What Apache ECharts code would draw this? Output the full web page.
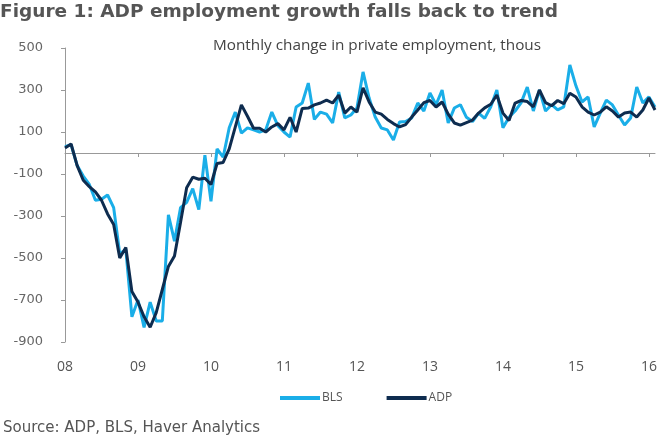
<!DOCTYPE html>
<html>
<head>
<meta charset="utf-8">
<script src="https://cdn.jsdelivr.net/npm/echarts@6/dist/echarts.min.js"></script>
<style>
  html, body { margin: 0; padding: 0; background: #fff; }
  #main { width: 666px; height: 440px; }
</style>
</head>
<body>
<div id="main"></div>
<script>
// years shown on the x axis, data runs monthly Jan 2008 - Feb 2016
var years = [2008, 2009, 2010, 2011, 2012, 2013, 2014, 2015, 2016];
var lastMonth = 2; // Feb 2016

// y axis tick labels
var yTicks = [-900, -700, -500, -300, -100, 100, 300, 500];

// BLS private payrolls, monthly change, thous
var bls = [
  30, 40, -60, -110, -150, -225, -220, -200, -260, -480, -460, -780,
  -700, -830, -710, -800, -800, -295, -420, -260, -235, -170, -270, -10,
  -230, 20, -20, 120, 195, 95, 120, 110, 100, 110, 195, 130,
  100, 76, 219, 238, 333, 160, 195, 185, 143, 290, 167, 181,
  214, 386, 262, 171, 119, 110, 62, 148, 150, 167, 238, 200,
  286, 230, 300, 143, 214, 230, 170, 150, 190, 165, 220, 300,
  120, 170, 200, 240, 314, 200, 300, 200, 230, 205, 220, 419,
  320, 243, 267, 124, 190, 252, 229, 180, 133, 167, 314, 238,
  267, 219
];

// ADP private employment, monthly change, thous
var adp = [
  24, 43, -60, -130, -160, -185, -225, -290, -340, -500, -450, -660,
  -710, -780, -830, -760, -650, -540, -490, -330, -165, -115, -125, -120,
  -150, -50, -45, 20, 124, 229, 175, 118, 118, 100, 124, 140,
  110, 170, 100, 212, 214, 229, 238, 252, 238, 276, 190, 219,
  195, 310, 243, 195, 185, 160, 140, 124, 135, 171, 205, 240,
  250, 219, 243, 185, 143, 133, 145, 157, 190, 215, 232, 276,
  190, 155, 238, 250, 245, 220, 300, 240, 225, 250, 235, 285,
  267, 220, 195, 181, 195, 220, 200, 171, 190, 195, 171, 205,
  262, 205
];

// month categories "2008-01" ...
var months = [];
years.forEach(function (y, yi) {
  var n = yi === years.length - 1 ? lastMonth : 12;
  for (var m = 1; m <= n; m++) {
    months.push(y + "-" + (m < 10 ? "0" + m : m));
  }
});

var myChart = echarts.init(document.getElementById("main"));

myChart.setOption({
  animation: false,
  backgroundColor: "#fff",
  title: [
    {
      text: "Figure 1: ADP employment growth falls back to trend",
      left: 0,
      top: 3,
      padding: 0,
      textStyle: {
        fontFamily: "DejaVu Sans",
        fontSize: 18.5,
        fontWeight: "bold",
        color: "#555",
      },
    },
    {
      text: "Monthly change in private employment, thous",
      left: 213,
      top: 38,
      padding: 0,
      textStyle: {
        fontFamily: "Open Sans",
        fontSize: 15.3,
        fontWeight: "normal",
        color: "#444",
      },
    },
    {
      text: "Source: ADP, BLS, Haver Analytics",
      left: 3,
      top: 421,
      padding: 0,
      textStyle: {
        fontFamily: "DejaVu Sans",
        fontSize: 15,
        fontWeight: "normal",
        color: "#555",
      },
    },
  ],
  legend: {
    data: ["BLS", "ADP"],
    left: 275,
    top: 387,
    icon: "rect",
    itemWidth: 40,
    itemHeight: 4,
    itemGap: 44,
    textStyle: {
      fontFamily: "Open Sans",
      fontSize: 12,
      color: "#555",
      padding: [0, 0, 0, -3],
    },
  },
  grid: {
    left: 65,
    right: 11,
    top: 48,
    bottom: 98,
  },
  xAxis: [
    // line on zero with year ticks
    {
      type: "category",
      data: months,
      boundaryGap: false,
      position: "bottom",
      axisLine: { onZero: true, lineStyle: { color: "#999", width: 1 } },
      axisTick: {
        interval: function (index) {
          return index % 12 === 0;
        },
        length: 4,
        lineStyle: { color: "#999" },
      },
      axisLabel: { show: false },
      splitLine: { show: false },
    },
    // year labels along the bottom
    {
      type: "category",
      data: months,
      boundaryGap: false,
      position: "bottom",
      axisLine: { show: false, onZero: false },
      axisTick: { show: false },
      axisLabel: {
        interval: function (index) {
          return index % 12 === 0;
        },
        formatter: function (v) {
          return v.slice(2, 4);
        },
        margin: 18,
        fontFamily: "Open Sans",
        fontSize: 14,
        color: "#555",
      },
      splitLine: { show: false },
    },
  ],
  yAxis: {
    type: "value",
    min: -900,
    max: 500,
    axisLine: { show: true, lineStyle: { color: "#999" } },
    axisTick: {
      show: true,
      length: 4,
      customValues: yTicks,
      lineStyle: { color: "#999" },
    },
    axisLabel: {
      customValues: yTicks,
      margin: 22,
      fontFamily: "DejaVu Sans",
      fontSize: 13,
      color: "#666",
    },
    splitLine: { show: false },
  },
  series: [
    {
      name: "BLS",
      type: "line",
      data: bls,
      showSymbol: false,
      color: "#1aaee8",
      lineStyle: { width: 3, color: "#1aaee8" },
      z: 2,
    },
    {
      name: "ADP",
      type: "line",
      data: adp,
      showSymbol: false,
      color: "#0e2c4f",
      lineStyle: { width: 3, color: "#0e2c4f" },
      z: 3,
    },
  ],
});
</script>
</body>
</html>
